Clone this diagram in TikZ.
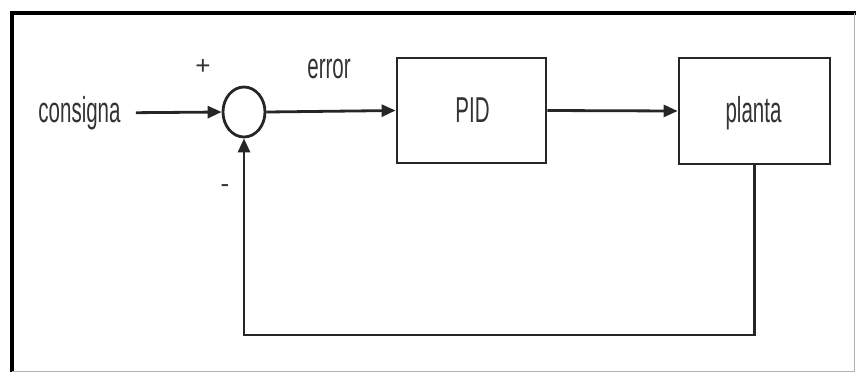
\documentclass[tikz,border=0pt]{standalone}
\usepackage{graphicx}
\usepackage{fontspec}
\setmainfont{Liberation Sans}
\usetikzlibrary{shapes.geometric,arrows.meta}

\newcommand{\narrow}[1]{\scalebox{0.57}[1]{#1}}

\begin{document}
\begin{tikzpicture}[x=1pt,y=-1pt,
  lbl/.style={font=\fontsize{36}{36}\selectfont,text=black!80,inner sep=0pt},
  blockbox/.style={draw=black!85,line width=2.8pt,minimum width=149pt,minimum height=105pt,inner sep=0pt},
  sumnode/.style={ellipse,draw=black!85,line width=2.8pt,minimum width=42pt,minimum height=50pt,inner sep=0pt},
  conn/.style={draw=black!85,line width=2.8pt,-{Triangle[length=14pt,width=12pt]}}]

\useasboundingbox (0,0) rectangle (856,376);

% frame
\draw[line width=3.5pt] (12,372) -- (12,13) -- (856,13);
\draw[black!30,line width=1pt] (854,13) -- (854,371) -- (12,371);

\node[lbl,anchor=base,inner xsep=15pt] (consigna) at (79.5,122) {\narrow{consigna}};
\node[sumnode] (sum) at (244,112) {};
\node[blockbox] (pid) at (471.5,110.5) {};
\node[blockbox,minimum width=151pt,minimum height=106pt] (planta) at (754.5,111) {};
\node[lbl,anchor=base] (pidtxt) at (472.5,122) {\narrow{PID}};
\node[lbl,anchor=base] (plantatxt) at (753.5,122) {\narrow{planta}};
\node[lbl,anchor=base] (error) at (329,78) {\narrow{error}};
\node[lbl,font=\fontsize{26}{26}\selectfont] (plus) at (203,67) {+};
\node[lbl,font=\fontsize{26}{26}\selectfont] (minus) at (225,189) {-};
\coordinate (fb) at (754.5,335);

\draw[conn] (consigna.east) -- (sum.west);
\draw[conn] (sum.east) -- (pid.west);
\draw[conn] (pid.east) -- (planta.west);
\draw[conn] (planta.south) -- (fb) -| (sum.south);
\end{tikzpicture}
\end{document}
